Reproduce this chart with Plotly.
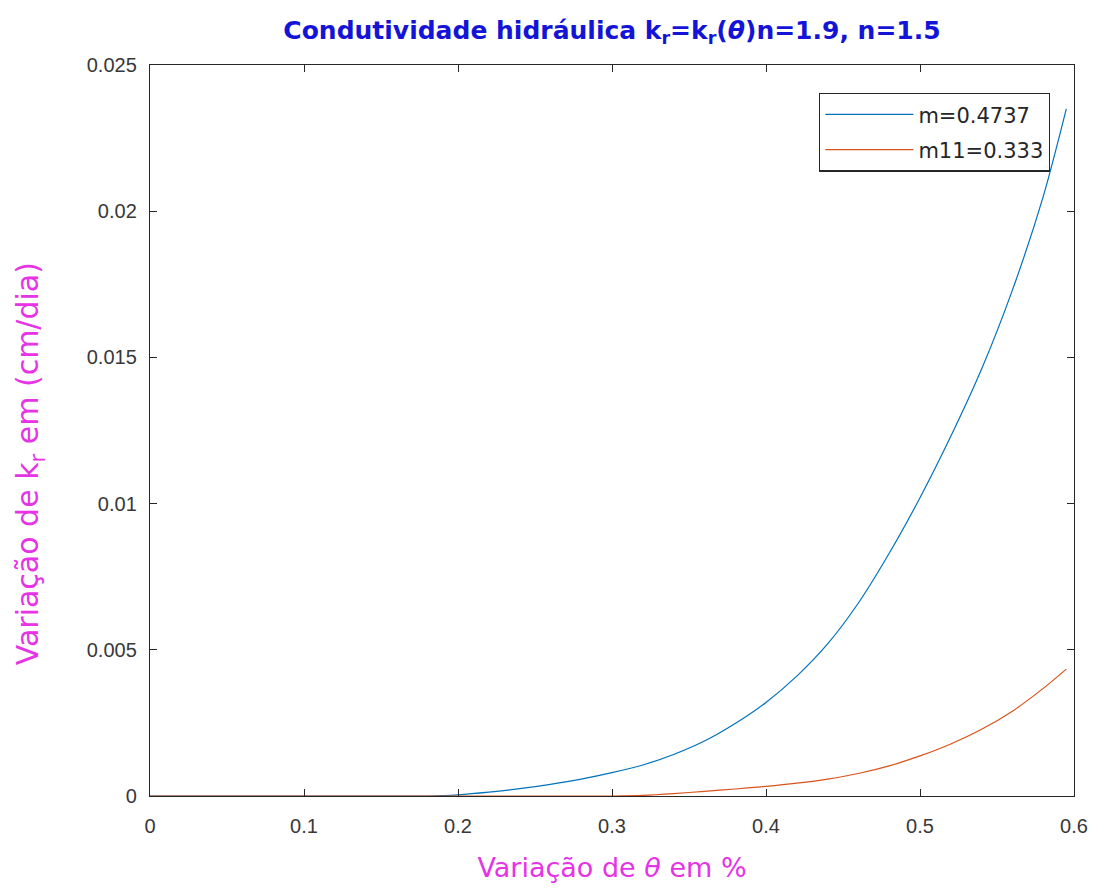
import plotly.graph_objects as go

# Water content (theta) and relative hydraulic conductivity for two m values
theta_m = [0.0, 0.10, 0.18, 0.20, 0.22, 0.24, 0.26, 0.28, 0.30, 0.32, 0.34, 0.36,
           0.38, 0.40, 0.42, 0.44, 0.46, 0.48, 0.50, 0.52, 0.54, 0.56, 0.58, 0.595]
kr_m = [0.0, 0.0, 0.0, 0.00004, 0.00013, 0.00025, 0.00040, 0.00058, 0.00080,
        0.00106, 0.00142, 0.00188, 0.00248, 0.00320, 0.00410, 0.00520, 0.00660,
        0.00830, 0.01020, 0.01230, 0.01460, 0.01730, 0.02050, 0.02350]

theta_m11 = [0.0, 0.10, 0.20, 0.30, 0.32, 0.34, 0.36, 0.38, 0.40, 0.42, 0.44,
             0.46, 0.48, 0.50, 0.52, 0.54, 0.56, 0.58, 0.595]
kr_m11 = [0.0, 0.0, 0.0, 0.0, 0.00002, 0.00008, 0.00016, 0.00024, 0.00033,
          0.00044, 0.00058, 0.00077, 0.00103, 0.00137, 0.00178, 0.00228,
          0.00290, 0.00368, 0.00434]

x_ticks = [0, 0.1, 0.2, 0.3, 0.4, 0.5, 0.6]
x_tick_text = ["0", "0.1", "0.2", "0.3", "0.4", "0.5", "0.6"]
y_ticks = [0, 0.005, 0.01, 0.015, 0.02, 0.025]
y_tick_text = ["0", "0.005", "0.01", "0.015", "0.02", "0.025"]

axis_color = "#262626"
tick_color = "#383838"
label_color = "#E633E6"
tick_font = "Liberation Sans, Arial, sans-serif"
text_font = "DejaVu Sans, Verdana, sans-serif"

fig = go.Figure()
fig.add_trace(go.Scatter(x=theta_m, y=kr_m, mode="lines", name="m=0.4737",
                         legendgroup="a",
                         line=dict(color="#0072BD", width=1.2, shape="spline", smoothing=0.8)))
fig.add_trace(go.Scatter(x=theta_m11, y=kr_m11, mode="lines", name="m11=0.333",
                         legendgroup="b",
                         line=dict(color="#D95319", width=1.2, shape="spline", smoothing=0.8)))

axis_common = dict(
    showgrid=False, zeroline=False, showline=True, linecolor=axis_color, linewidth=1.4,
    mirror="ticks", ticks="inside", ticklen=7, tickcolor=axis_color, tickwidth=1.4,
    tickfont=dict(family=tick_font, size=20, color=tick_color),
    automargin=False,
)

fig.update_layout(
    width=1099, height=890,
    margin=dict(l=150, r=25, t=65, b=94),
    paper_bgcolor="white", plot_bgcolor="white",
    font=dict(family=text_font),
    title=dict(
        text="<b>Condutividade hidráulica k<sub>r</sub>=k<sub>r</sub>(<i>θ</i>)n=1.9, n=1.5</b>",
        xref="paper", x=0.5, xanchor="center",
        yref="container", y=0.966, yanchor="middle",
        font=dict(family=text_font, size=25, color="#1414D8"),
    ),
    xaxis=dict(range=[0, 0.6], tickvals=x_ticks, ticktext=x_tick_text,
               ticklabelstandoff=12,
               title=dict(text="Variação de <i>θ</i> em %", standoff=21,
                          font=dict(family=text_font, size=27, color=label_color)),
               **axis_common),
    yaxis=dict(range=[0, 0.025], tickvals=y_ticks, ticktext=y_tick_text,
               ticklabelstandoff=8, **axis_common),
    annotations=[dict(
        text="Variação de k<sub>r</sub> em (cm/dia)", textangle=-90,
        xref="paper", yref="paper", x=-0.13, y=0.455,
        xanchor="center", yanchor="middle", showarrow=False,
        font=dict(family=text_font, size=30, color=label_color),
    )],
    legend=dict(x=0.974, xanchor="right", y=0.962, yanchor="top",
                bgcolor="white", bordercolor=axis_color, borderwidth=1.4,
                font=dict(family=text_font, size=21, color=axis_color),
                itemwidth=88, tracegroupgap=5),
    showlegend=True,
)

fig.write_html("out.html")
